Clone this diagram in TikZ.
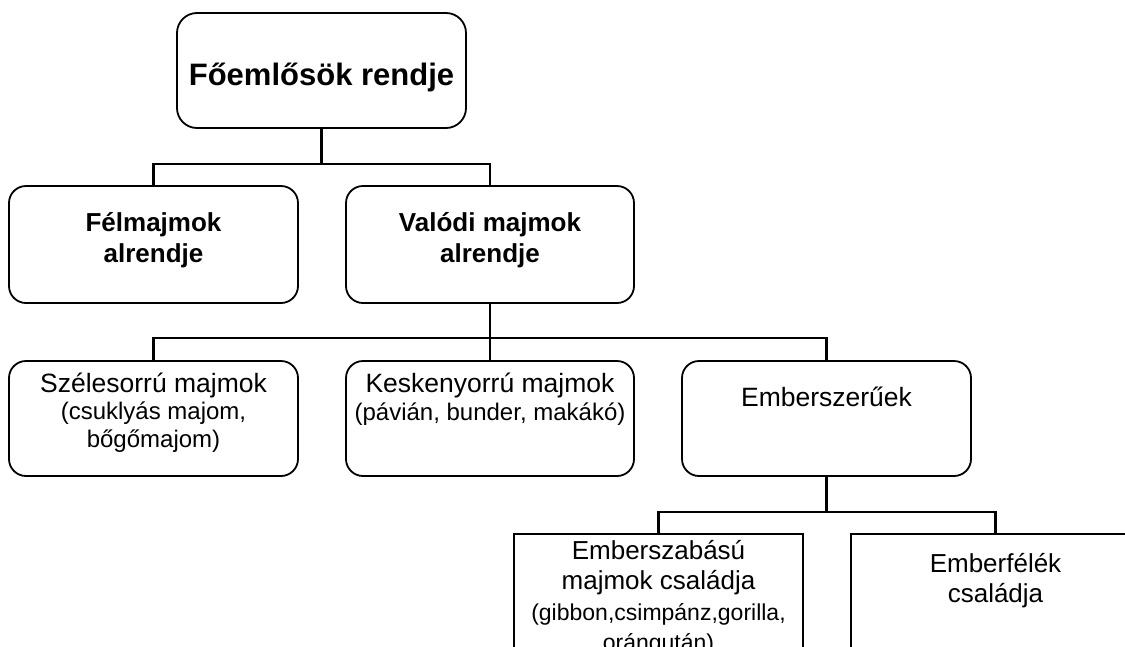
\documentclass[tikz,border=0pt]{standalone}
\usepackage{fontspec}
\setmainfont{Liberation Sans}
\newcommand{\btext}[4]{\parbox[t][#2pt][t]{#1pt}{\centering\lineskiplimit=-1000pt\relax\rule{0pt}{#3pt}#4\par}}
\tikzset{
  rbox/.style={draw, line width=1.8pt, rounded corners=17pt, inner sep=0pt, outer sep=0pt},
  sbox/.style={draw, line width=1.5pt, inner sep=0pt, outer sep=0pt},
  conn/.style={draw, line width=2.3pt},
}
\begin{document}
\begin{tikzpicture}[x=1pt,y=-1pt]
\useasboundingbox (0,0) rectangle (1125,646);
\fill[white] (0,0) rectangle (1125,646);
\clip (0,0) rectangle (1125,646);
% level 1
\node[rbox, rounded corners=20pt] (fo) at (321.5,70.5)
  {\btext{289}{115}{72}{\fontsize{31}{31}\selectfont\bfseries Főemlősök rendje}};
% level 2
\node[rbox] (fel) at (153.5,244.5)
  {\btext{289}{117}{45}{\fontsize{26}{31}\selectfont\bfseries Félmajmok\\alrendje}};
\node[rbox] (val) at (490,244.5)
  {\btext{288}{117}{45}{\fontsize{26}{31}\selectfont\bfseries Valódi majmok\\alrendje}};
% level 3
\node[rbox] (szel) at (153.5,418.5)
  {\btext{289}{115}{31}{\fontsize{26.5}{27.5}\selectfont Szélesorrú majmok\\{\fontsize{24}{27.5}\selectfont (csuklyás majom,\\bőgőmajom)}}};
\node[rbox] (kesk) at (490,418.5)
  {\btext{288}{115}{31}{\fontsize{26.5}{28}\selectfont Keskenyorrú majmok\\{\fontsize{24}{28}\selectfont (pávián, bunder, makákó)}}};
\node[rbox] (embsz) at (826.5,418.5)
  {\btext{289}{115}{45}{\fontsize{26.5}{28}\selectfont Emberszerűek}};
% level 4
\node[sbox] (szab) at (658.5,604)
  {\btext{289}{140}{25}{\fontsize{26}{30.5}\selectfont Emberszabású\\majmok családja\\{\fontsize{23}{30.5}\selectfont (gibbon,csimpánz,gorilla,\\orángután)}}};
\node[sbox] (emf) at (995.5,604)
  {\btext{289}{140}{38}{\fontsize{26}{30}\selectfont Emberfélék\\családja}};
% connectors
\draw[conn] (fo.south) -- ++(0,36) coordinate (j1);
\draw[conn] (fel.north) |- (j1) -| (val.north);
\draw[conn] (val.south) -- ++(0,35) coordinate (j2);
\draw[conn] (szel.north) |- (j2) -| (embsz.north);
\draw[conn] (j2) -- (kesk.north);
\draw[conn] (embsz.south) -- ++(0,36) coordinate (j3);
\draw[conn] (szab.north) |- (j3) -| (emf.north);
\end{tikzpicture}
\end{document}
